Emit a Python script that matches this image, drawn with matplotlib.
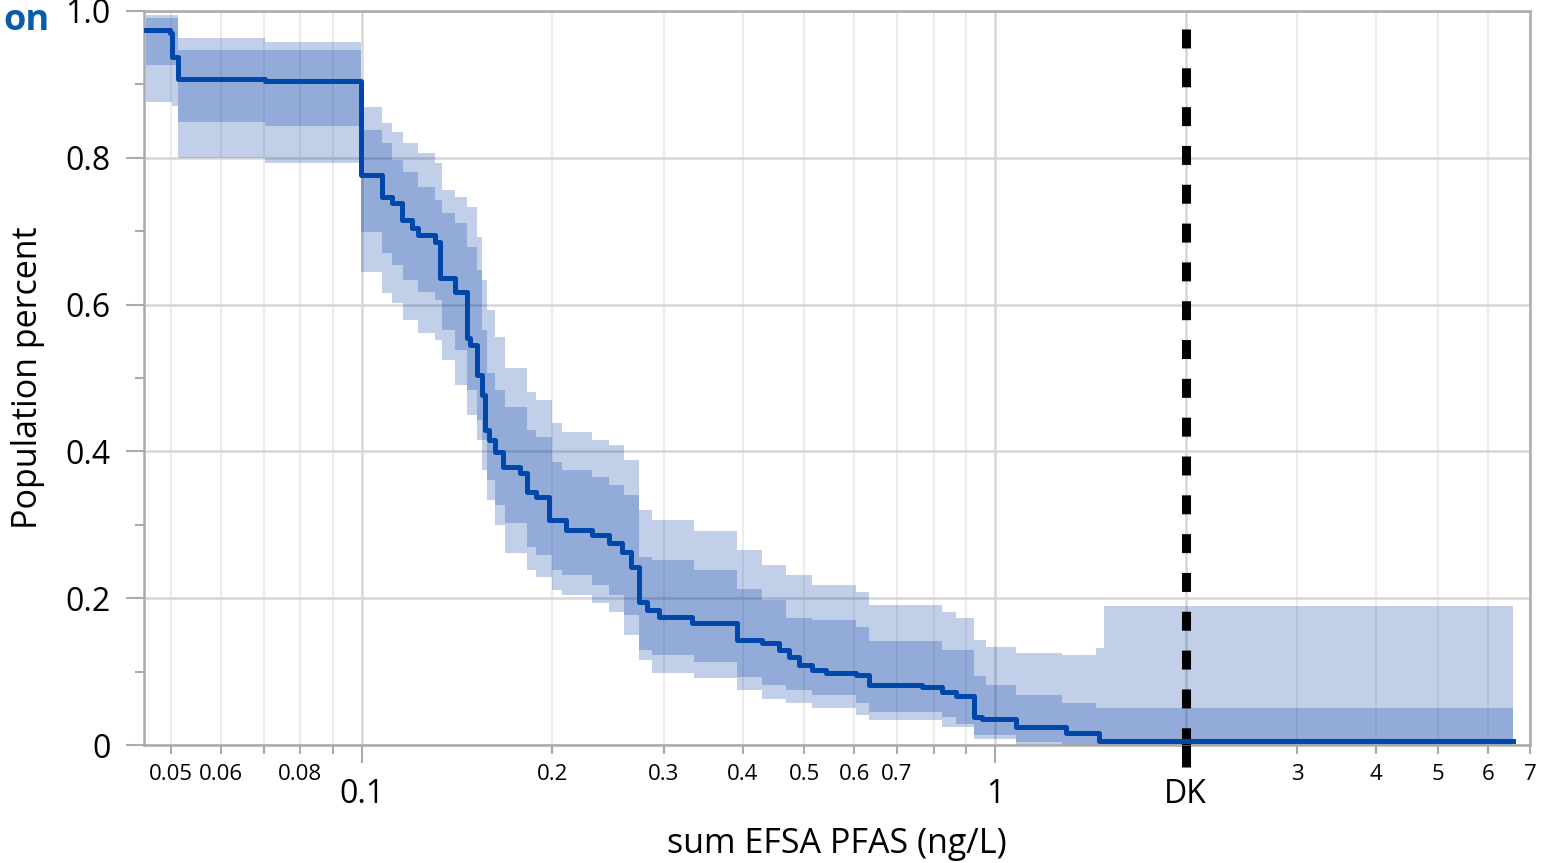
import numpy as np
import matplotlib.pyplot as plt

plt.rcParams['font.family'] = ['Open Sans', 'DejaVu Sans']

# step curve (fraction of population above a given sum EFSA PFAS level)
linha_x = [0.0456, 0.0498, 0.0502, 0.0513, 0.0703, 0.0996, 0.1075, 0.1115, 0.1156,
           0.1199, 0.1226, 0.1303, 0.1327, 0.1402, 0.1464, 0.1480, 0.1518, 0.1546,
           0.1563, 0.1591, 0.1621, 0.1669, 0.1775, 0.1827, 0.1888, 0.1979, 0.2105,
           0.2314, 0.2461, 0.2580, 0.2666, 0.2745, 0.2826, 0.2951, 0.3326, 0.3918,
           0.4290, 0.4564, 0.4733, 0.4909, 0.5145, 0.5414, 0.6037, 0.6328, 0.7671,
           0.8249, 0.8680, 0.9266, 0.9539, 1.079, 1.294, 1.459, 6.59]
linha_y = [0.974, 0.970, 0.937, 0.907, 0.905, 0.777, 0.747, 0.738, 0.715,
           0.704, 0.695, 0.685, 0.636, 0.617, 0.554, 0.545, 0.504, 0.477,
           0.429, 0.416, 0.399, 0.379, 0.371, 0.345, 0.338, 0.306, 0.293,
           0.286, 0.275, 0.263, 0.243, 0.195, 0.184, 0.174, 0.166, 0.143,
           0.139, 0.129, 0.120, 0.109, 0.102, 0.098, 0.095, 0.082, 0.079,
           0.072, 0.067, 0.038, 0.035, 0.025, 0.016, 0.005, 0.005]

# confidence bands (outer = light, inner = dark)
banda_x = [0.0456, 0.0502, 0.0513, 0.0703, 0.0996, 0.1075, 0.1115, 0.1161, 0.1226,
           0.1303, 0.1337, 0.1402, 0.1464, 0.1518, 0.1551, 0.1575, 0.1621, 0.1681,
           0.1822, 0.1888, 0.1994, 0.2075, 0.2314, 0.2461, 0.2600, 0.2745, 0.2877,
           0.3350, 0.3918, 0.4290, 0.4682, 0.5145, 0.6037, 0.6328, 0.8249, 0.8680,
           0.9266, 0.9678, 1.079, 1.276, 1.443, 1.486, 6.59]
externa_sup = [0.9946, 0.9946, 0.9632, 0.9578, 0.8692, 0.8474, 0.8351, 0.8202, 0.8065,
               0.7929, 0.7561, 0.7466, 0.7330, 0.6921, 0.6335, 0.5926, 0.5559, 0.5136,
               0.4809, 0.4700, 0.4387, 0.4264, 0.4155, 0.4087, 0.3883, 0.3202, 0.3065,
               0.2916, 0.2657, 0.2452, 0.2316, 0.2180, 0.2084, 0.1907, 0.1812, 0.1730,
               0.1431, 0.1335, 0.1253, 0.1226, 0.1322, 0.1894, 0.1894]
interna_sup = [0.9905, 0.9905, 0.9469, 0.9469, 0.8379, 0.8202, 0.7970, 0.7807, 0.7602,
               0.7425, 0.7248, 0.7112, 0.6785, 0.6471, 0.5654, 0.5068, 0.4837, 0.4605,
               0.4292, 0.4196, 0.3856, 0.3747, 0.3651, 0.3542, 0.3406, 0.2561, 0.2520,
               0.2384, 0.2125, 0.1975, 0.1730, 0.1703, 0.1608, 0.1417, 0.1294, 0.1294,
               0.0940, 0.0817, 0.0681, 0.0572, 0.0504, 0.0504, 0.0504]
interna_inf = [0.9264, 0.9264, 0.8488, 0.8433, 0.6989, 0.6703, 0.6540, 0.6335, 0.6172,
               0.6063, 0.5654, 0.5381, 0.4837, 0.4428, 0.4155, 0.3610, 0.3270, 0.3025,
               0.2698, 0.2589, 0.2384, 0.2316, 0.2180, 0.2044, 0.1771, 0.1294, 0.1226,
               0.1131, 0.0926, 0.0817, 0.0749, 0.0681, 0.0572, 0.0450, 0.0381, 0.0286,
               0.0136, 0.0136, 0.0041, 0.0, 0.0, 0.0, 0.0]
externa_inf = [0.8760, 0.8706, 0.7997, 0.7929, 0.6444, 0.6158, 0.6022, 0.5790, 0.5613,
               0.5518, 0.5245, 0.4905, 0.4496, 0.4155, 0.3747, 0.3338, 0.2997, 0.2616,
               0.2384, 0.2289, 0.2112, 0.2044, 0.1935, 0.1812, 0.1499, 0.1158, 0.0981,
               0.0913, 0.0749, 0.0627, 0.0572, 0.0504, 0.0409, 0.0341, 0.0245, 0.0245,
               0.0082, 0.0082, 0.0, 0.0, 0.0, 0.0, 0.0]

# eixos
ticks_maiores = [0.1, 1, 2]
rotulos_maiores = ['0.1', '1', 'DK']
ticks_menores = [0.05, 0.06, 0.07, 0.08, 0.09, 0.2, 0.3, 0.4, 0.5, 0.6, 0.7, 0.8, 0.9,
                 3, 4, 5, 6, 7]
rotulos_menores = ['0.05', '0.06', '', '0.08', '', '0.2', '0.3', '0.4', '0.5', '0.6',
                   '0.7', '', '', '3', '4', '5', '6', '7']
ticks_y = [0, 0.2, 0.4, 0.6, 0.8, 1.0]
rotulos_y = ['0', '0.2', '0.4', '0.6', '0.8', '1.0']
ticks_y_menores = [0.1, 0.3, 0.5, 0.7, 0.9]
valor_dk = 2

fig = plt.figure(figsize=(15.48, 8.63), dpi=100)
ax = fig.add_axes([0.093, 0.1367, 0.8954, 0.8506])

cor_banda = '#003AA3'
ax.fill_between(banda_x, externa_inf, externa_sup, step='post', color=cor_banda,
                alpha=0.24, linewidth=0, zorder=2)
ax.fill_between(banda_x, interna_inf, interna_sup, step='post', color=cor_banda,
                alpha=0.24, linewidth=0, zorder=2)
ax.plot([valor_dk, valor_dk], [0.975, 0], color='black', lw=6.5,
        linestyle=(0, (2.1, 2.2)), zorder=3)
# marca preta do DK abaixo do eixo
ax.plot([valor_dk, valor_dk], [0, -0.03], color='black', lw=6.5, clip_on=False,
        solid_capstyle='butt', zorder=5)
ax.step(linha_x, linha_y, where='post', color='#0047AB', lw=3.6, zorder=4)

ax.set_xscale('log')
ax.set_xlim(0.0453, 7.0)
ax.set_ylim(0, 1)

ax.set_xticks(ticks_maiores, labels=rotulos_maiores)
ax.set_xticks(ticks_menores, labels=rotulos_menores, minor=True)
ax.set_yticks(ticks_y, labels=rotulos_y)
ax.set_yticks(ticks_y_menores, minor=True)

cinza = '#ababab'
ax.tick_params(axis='x', which='major', length=13, width=1.5, color=cinza,
               labelsize=23, pad=11)
ax.tick_params(axis='x', which='minor', length=6.5, width=1.5, color=cinza,
               labelsize=16, pad=7)
ax.tick_params(axis='y', which='major', length=13, width=1.5, color=cinza,
               labelsize=23, pad=11)
ax.tick_params(axis='y', which='minor', length=6.5, width=1.5, color=cinza)

for s in ax.spines.values():
    s.set_color(cinza)
    s.set_linewidth(1.8)

ax.set_axisbelow(True)
ax.yaxis.grid(True, which='major', color='#d6d6d6', lw=1.8)
ax.xaxis.grid(True, which='major', color='#d6d6d6', lw=1.8)
ax.xaxis.grid(True, which='minor', color='#ececec', lw=1.5)

ax.set_ylabel('Population percent', fontsize=24.5)
ax.yaxis.set_label_coords(-0.0714, 0.5)
ax.set_xlabel('sum EFSA PFAS (ng/L)', fontsize=24.5)
ax.xaxis.set_label_coords(0.5, -0.112)

fig.text(0.002, 0.997, 'on', color='#0A5CA8', fontsize=26, fontweight='bold',
         ha='left', va='top')

fig.savefig('out.png', dpi=100)
